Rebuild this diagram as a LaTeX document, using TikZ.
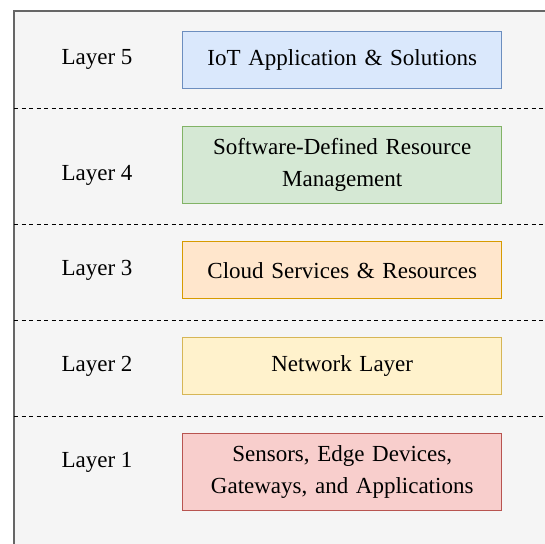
\documentclass[tikz,border=0pt]{standalone}
\usepackage{fontspec}
\setmainfont{Liberation Serif}
\usetikzlibrary{positioning}

\definecolor{panelfill}{HTML}{F5F5F5}
\definecolor{panelline}{HTML}{666666}
\definecolor{bluefill}{HTML}{DAE8FC}
\definecolor{blueline}{HTML}{6C8EBF}
\definecolor{greenfill}{HTML}{D5E8D4}
\definecolor{greenline}{HTML}{82B366}
\definecolor{orangefill}{HTML}{FFE6CC}
\definecolor{orangeline}{HTML}{D79B00}
\definecolor{yellowfill}{HTML}{FFF2CC}
\definecolor{yellowline}{HTML}{D6B656}
\definecolor{redfill}{HTML}{F8CECC}
\definecolor{redline}{HTML}{B85450}

\tikzset{
    layerlabel/.style={font=\fontsize{23}{28}\selectfont, anchor=center},
    layerbox/.style={draw, line width=1.4pt, minimum width=319pt, text width=310pt,
        align=center, font=\fontsize{23}{32}\selectfont, anchor=north west},
    separator/.style={dashed, dash pattern=on 4pt off 3.5pt, line width=1pt}
}

\begin{document}
\begin{tikzpicture}[x=1pt, y=-1pt]
\useasboundingbox (0,0) rectangle (545,543);
\clip (0,0) rectangle (545,543);
    % panel
    \fill[panelfill, draw=panelline, line width=1.2pt] (14,11) rectangle (600,600);

    % separators
    \draw[separator] (14,108) -- (560,108);
    \draw[separator] (14,224) -- (560,224);
    \draw[separator] (14,320) -- (560,320);
    \draw[separator] (14,416) -- (560,416);

    % layers
    \node[layerlabel] (lfive) at (97,59) {Layer 5};
    \node[layerbox, fill=bluefill, draw=blueline, minimum height=57pt] (bfive) at (182,31)
        {IoT Application \& Solutions};

    \node[layerlabel] (lfour) at (97,175) {Layer 4};
    \node[layerbox, fill=greenfill, draw=greenline, minimum height=77pt] (bfour) at (182,126)
        {Software-Defined Resource\\Management};

    \node[layerlabel] (lthree) at (97,270) {Layer 3};
    \node[layerbox, fill=orangefill, draw=orangeline, minimum height=57pt] (bthree) at (182,241)
        {Cloud Services \& Resources};

    \node[layerlabel] (ltwo) at (97,366) {Layer 2};
    \node[layerbox, fill=yellowfill, draw=yellowline, minimum height=57pt] (btwo) at (182,337)
        {Network Layer};

    \node[layerlabel] (lone) at (97,462) {Layer 1};
    \node[layerbox, fill=redfill, draw=redline, minimum height=77pt] (bone) at (182,433)
        {Sensors, Edge Devices,\\Gateways, and Applications};
\end{tikzpicture}
\end{document}
